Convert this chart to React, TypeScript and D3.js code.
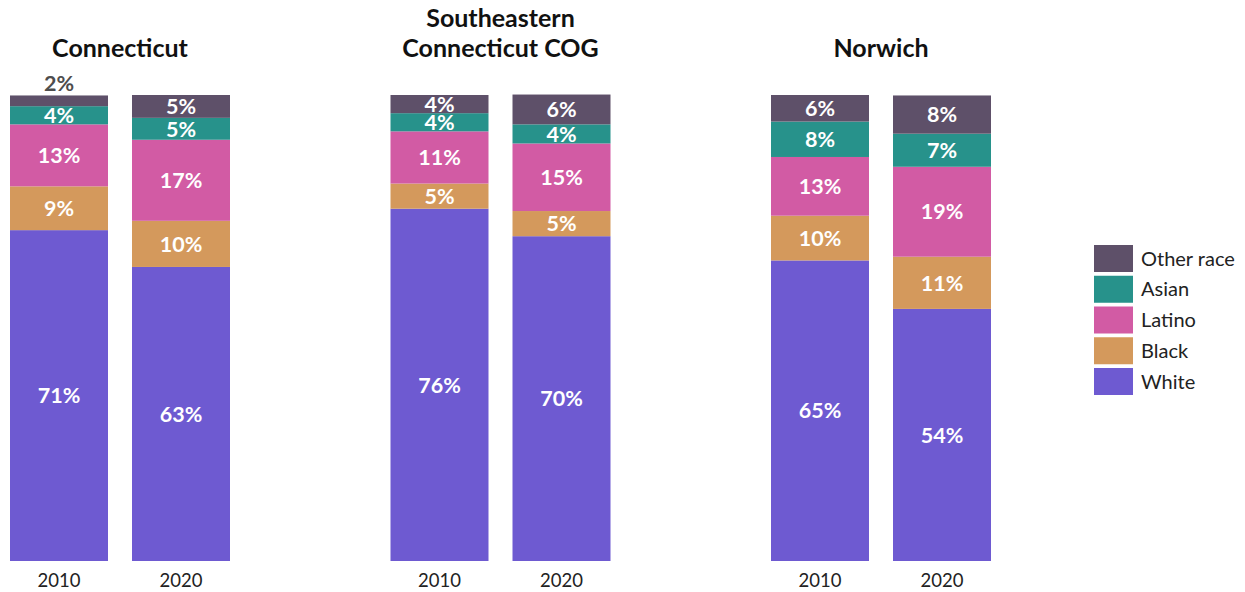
import React from "react";
import * as d3 from "d3";

const regions = ["Connecticut", "Southeastern Connecticut COG", "Norwich"];
const regionTitleLines = [["Connecticut"], ["Southeastern", "Connecticut COG"], ["Norwich"]];
const years = ["2010", "2020"];
const groups = ["White", "Black", "Latino", "Asian", "Other race"];
const legendOrder = ["Other race", "Asian", "Latino", "Black", "White"];
const colors = ["#6e5ad1", "#d4995c", "#d25ba4", "#27928b", "#5e5069"];

// values per region, per year, in order of groups (White, Black, Latino, Asian, Other race)
const connecticut2010 = [71.0, 9.4, 13.3, 3.9, 2.3];
const connecticut2020 = [63.1, 9.9, 17.4, 4.7, 4.9];
const secog2010 = [75.6, 5.4, 11.2, 3.9, 3.9];
const secog2020 = [69.7, 5.4, 14.5, 4.1, 6.4];
const norwich2010 = [64.5, 9.6, 12.6, 7.6, 5.7];
const norwich2020 = [54.1, 11.2, 19.3, 7.1, 8.2];

const dataByRegion = [
  [connecticut2010, connecticut2020],
  [secog2010, secog2020],
  [norwich2010, norwich2020],
];

const W = 1245;
const H = 592;
const FONT = "Lato, 'Open Sans', sans-serif";

export default function App() {
  const y = d3.scaleLinear().domain([0, 100]).range([561, 95]);
  const facetStep = 380.5;
  const facetWidth = 220;
  const inner = d3.scaleBand<string>().domain(years).range([0, facetWidth]).paddingInner(24 / 122).paddingOuter(0);

  const stack = d3.stack<number[]>().keys(groups.map((_, i) => String(i))).value((d, k) => d[+k]);

  return (
    <svg width={W} height={H} style={{ position: "absolute", left: 0, top: 0, background: "#fff" }}>
      {regions.map((r, ri) => {
        const x0 = 10 + ri * facetStep;
        const cx = x0 + facetWidth / 2;
        const lines = regionTitleLines[ri];
        const series = stack(dataByRegion[ri] as any);
        return (
          <g key={r}>
            {lines.map((ln, li) => (
              <text
                key={li}
                x={cx}
                y={57 - (lines.length - 1 - li) * 30}
                textAnchor="middle"
                fontFamily={FONT}
                fontWeight={700}
                fontSize={25}
                fill="#111"
              >
                {ln}
              </text>
            ))}
            {years.map((yr, yi) => {
              const bx = x0 + (inner(yr) as number);
              const bw = inner.bandwidth();
              return (
                <g key={yr}>
                  {series.map((s, gi) => {
                    const seg = s[yi];
                    const top = y(seg[1]);
                    const bot = y(seg[0]);
                    const v = dataByRegion[ri][yi][gi];
                    const outside = v < 3;
                    return (
                      <g key={gi}>
                        <rect x={bx} y={top} width={bw} height={bot - top} fill={colors[gi]} />
                        <text
                          x={bx + bw / 2}
                          y={outside ? top - 12 : (top + bot) / 2}
                          dy="0.36em"
                          textAnchor="middle"
                          fontFamily={FONT}
                          fontWeight={700}
                          fontSize={21.5}
                          fill={outside ? "#4d4d4d" : "#fff"}
                        >
                          {Math.round(v)}%
                        </text>
                      </g>
                    );
                  })}
                  <text
                    x={bx + bw / 2}
                    y={587}
                    textAnchor="middle"
                    fontFamily={FONT}
                    fontSize={18.5}
                    fill="#222"
                  >
                    {yr}
                  </text>
                </g>
              );
            })}
          </g>
        );
      })}
      <g>
        {legendOrder.map((g, i) => {
          const gi = groups.indexOf(g);
          const ly = 245 + i * 30.75;
          return (
            <g key={g}>
              <rect x={1094} y={ly} width={39} height={27} fill={colors[gi]} />
              <text x={1141} y={ly + 13.5} dy="0.36em" fontFamily={FONT} fontSize={20} fill="#222">
                {g}
              </text>
            </g>
          );
        })}
      </g>
    </svg>
  );
}
